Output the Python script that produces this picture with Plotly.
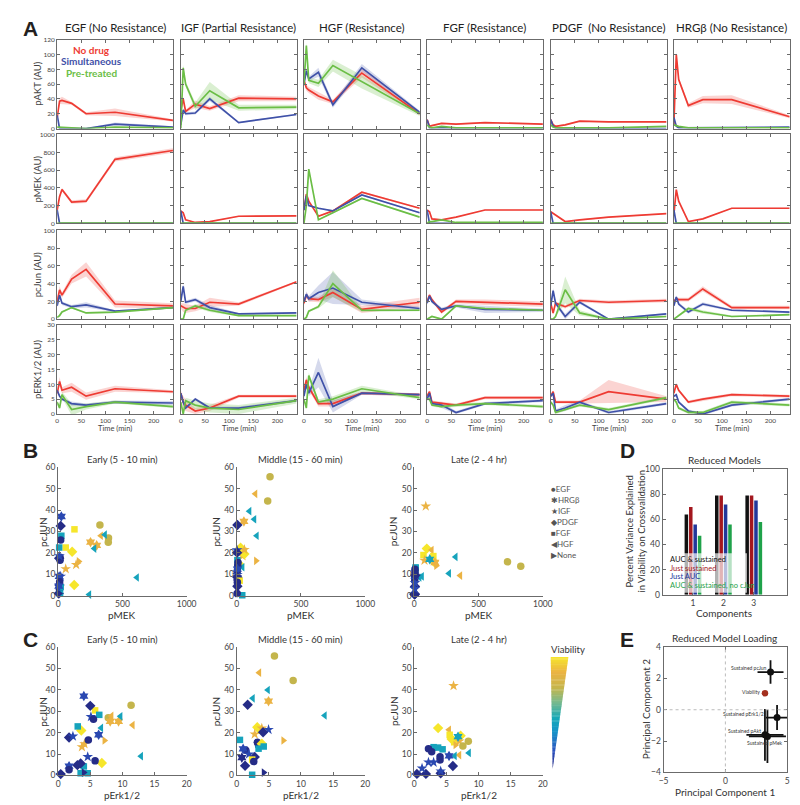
import plotly.graph_objects as go
from plotly.colors import sample_colorscale

# ---------------- DATA: panel A (time courses) ----------------
TIME = [0, 5, 10, 30, 60, 120, 240]
LIGAND_TITLES = ["EGF (No Resistance)", "IGF (Partial Resistance)", "HGF (Resistance)",
                 "FGF (Resistance)", "PDGF  (No Resistance)", "HRGβ (No Resistance)"]
PROTEIN_LABELS = ["pAKT (AU)", "pMEK (AU)", "pcJun (AU)", "pERK1/2 (AU)"]
Y_TICKS = [[0, 20, 40, 60, 80, 100, 120], [0, 200, 400, 600, 800, 1000],
           [0, 20, 40, 60, 80, 100], [0, 5, 10, 15, 20, 25, 30]]
TIME_TICKS = [0, 50, 100, 150, 200]

# rows: EGF, IGF, HGF, FGF, PDGF, HRGb
AKT_NODRUG = [[15, 37, 38, 34, 20, 22, 11], [25, 40, 23, 33, 27, 41, 40], [65, 55, 52, 44, 36, 75, 20],
              [12, 3, 4, 7, 6, 8, 6], [12, 5, 3, 5, 10, 9, 9], [5, 100, 66, 31, 39, 39, 16]]
AKT_NODRUG_SD = [[2, 4, 5, 2, 2, 5, 1.5], [3, 3, 2, 5, 3, 4, 3], [3, 4, 4, 5, 3, 6, 2],
                 [1, 1, 1, 1, 1, 1, 1], [1, 1, 1, 1, 1, 1, 1], [2, 4, 3, 3, 5, 6, 2]]
AKT_SIM = [[18, 0, 0, 0, 0, 6, 2], [5, 25, 20, 21, 40, 8, 19], [60, 78, 67, 76, 32, 82, 22],
           [12, 1, 1, 1, 1, 2, 1], [12, 3, 1, 0, 0, 0, 0], [15, 3, 1, 1, 1, 1, 2]]
AKT_SIM_SD = [[1, 0.5, 0.5, 0.5, 0.5, 2, 1], [2, 2, 2, 2, 3, 1, 1], [3, 4, 3, 6, 4, 5, 2],
              [0.5, 0.5, 0.5, 0.5, 0.5, 0.5, 0.5], [0.5, 0.5, 0.5, 0.5, 0.5, 0.5, 0.5], [0.5, 0.5, 0.5, 0.5, 0.5, 0.5, 0.5]]
AKT_PRE = [[2, 2, 2, 1, 0, 2, 1], [0, 82, 60, 30, 51, 28, 29], [60, 112, 65, 61, 85, 63, 20],
           [5, 2, 1, 3, 1, 1, 1], [5, 2, 1, 1, 0, 1, 3], [5, 4, 3, 1, 1, 1, 1]]
AKT_PRE_SD = [[0.5, 0.5, 0.5, 0.5, 0.5, 0.5, 0.5], [2, 4, 4, 5, 12, 4, 3], [4, 4, 4, 5, 8, 9, 3],
              [0.5, 0.5, 0.5, 0.5, 0.5, 0.5, 0.5], [0.5, 0.5, 0.5, 0.5, 0.5, 0.5, 0.5], [0.5, 0.5, 0.5, 0.5, 0.5, 0.5, 0.5]]

MEK_NODRUG = [[150, 300, 380, 240, 250, 720, 820], [140, 120, 40, 10, 20, 80, 85], [150, 330, 250, 80, 140, 350, 170],
              [150, 130, 50, 40, 70, 150, 150], [130, 110, 90, 20, 40, 70, 110], [100, 380, 250, 20, 50, 170, 170]]
MEK_NODRUG_SD = [[10, 20, 20, 20, 20, 25, 25], [8, 8, 6, 5, 5, 6, 6], [8, 10, 10, 8, 8, 10, 8],
                 [6, 6, 5, 5, 5, 6, 6], [6, 6, 5, 5, 5, 6, 6], [6, 10, 8, 5, 5, 6, 6]]
MEK_SIM = [[150, 0, 0, 0, 0, 0, 0], [140, 0, 0, 0, 0, 0, 0], [150, 310, 200, 170, 140, 320, 120],
           [150, 0, 0, 0, 0, 0, 0], [130, 0, 0, 0, 0, 0, 0], [150, 0, 0, 0, 0, 0, 0]]
MEK_SIM_SD = [[3, 2, 2, 2, 2, 2, 2], [3, 2, 2, 2, 2, 2, 2], [8, 10, 8, 8, 8, 10, 8],
              [3, 2, 2, 2, 2, 2, 2], [3, 2, 2, 2, 2, 2, 2], [3, 2, 2, 2, 2, 2, 2]]
MEK_PRE = [[0, 3, 3, 3, 3, 3, 3], [0, 2, 2, 2, 2, 2, 2], [0, 200, 610, 40, 120, 280, 70],
           [0, 20, 20, 40, 10, 10, 10], [0, 2, 2, 2, 2, 2, 2], [0, 2, 2, 2, 2, 2, 2]]
MEK_PRE_SD = [[2, 2, 2, 2, 2, 2, 2], [2, 2, 2, 2, 2, 2, 2], [5, 10, 10, 6, 8, 10, 6],
              [2, 3, 3, 4, 2, 2, 2], [2, 2, 2, 2, 2, 2, 2], [2, 2, 2, 2, 2, 2, 2]]

JUN_NODRUG = [[20, 33, 27, 45, 56, 17, 15], [15, 13, 12, 12, 19, 17, 42], [18, 27, 23, 22, 30, 11, 19],
              [20, 27, 22, 8, 20, 19, 17], [18, 7, 18, 14, 21, 19, 21], [20, 23, 22, 22, 34, 13, 13]]
JUN_NODRUG_SD = [[3, 4, 3, 5, 8, 4, 3], [3, 5, 5, 3, 5, 2, 1], [3, 3, 3, 3, 5, 4, 5],
                 [2, 2, 2, 2, 2, 3, 3], [2, 2, 2, 2, 2, 2, 2], [2, 2, 2, 2, 3, 2, 2]]
JUN_SIM = [[15, 27, 18, 14, 16, 9, 13], [20, 37, 19, 22, 13, 6, 7], [20, 28, 23, 30, 35, 19, 12],
           [18, 26, 20, 11, 15, 11, 10], [15, 32, 18, 3, 19, 0, 6], [15, 25, 17, 8, 17, 10, 8]]
JUN_SIM_SD = [[2, 3, 2, 2, 3, 1, 1], [3, 3, 2, 2, 3, 1, 1], [3, 3, 3, 8, 18, 3, 2],
              [2, 2, 2, 2, 2, 4, 2], [2, 3, 2, 3, 2, 1, 1], [2, 2, 2, 2, 2, 1, 1]]
JUN_PRE = [[2, 4, 8, 13, 7, 8, 13], [0, 0, 10, 15, 10, 4, 4], [0, 2, 9, 14, 40, 10, 10],
           [0, 2, 3, 0, 15, 12, 10], [0, 0, 3, 33, 7, 0, 3], [0, 2, 4, 12, 8, 3, 5]]
JUN_PRE_SD = [[1, 1, 1, 1, 1, 1, 1], [1, 1, 1, 2, 2, 1, 1], [1, 1, 1, 2, 15, 2, 1],
              [1, 1, 1, 1, 1, 1, 1], [1, 1, 1, 15, 3, 1, 1], [1, 1, 1, 2, 2, 1, 1]]

ERK_NODRUG = [[7, 11, 8, 9, 6, 8.5, 7.5], [7, 4, 3, 1, 2, 6, 6], [8, 11.5, 9, 3.5, 3.5, 7, 6.5],
              [6, 7.5, 4, 3.5, 3, 5.5, 5.5], [6, 7.5, 4, 4, 4, 7.5, 5], [7, 10, 8, 4, 5, 6.5, 6]]
ERK_NODRUG_SD = [[1, 1.5, 1, 1.5, 1.2, 1, 0.5], [1, 2, 2, 1, 1, 0.5, 0.5], [1, 1, 1, 1, 1, 0.5, 0.5],
                 [0.5, 0.5, 0.5, 0.5, 0.5, 0.5, 0.5], [0.5, 0.5, 0.5, 0.5, 0.5, 4, 1], [0.5, 0.5, 0.5, 0.5, 0.5, 0.5, 0.5]]
ERK_SIM = [[8, 6, 5, 3.5, 3, 4, 3.7], [7, 4, 2, 5, 2, 2, 4.5], [6, 10, 7, 14, 2.5, 7, 6.5],
           [5, 7, 3.5, 3, 0.5, 3.5, 4.5], [6, 7, 1, 2, 4, 0.5, 3.5], [6, 6.5, 4, 1, 0, 3, 5]]
ERK_SIM_SD = [[0.5, 0.5, 0.5, 0.7, 0.5, 0.5, 0.7], [0.5, 0.5, 0.5, 0.5, 0.5, 0.5, 0.5], [1, 1, 1, 5, 2, 0.5, 0.5],
              [0.5, 0.5, 0.5, 1, 0.5, 0.5, 0.5], [0.5, 0.5, 0.5, 1, 0.5, 0.5, 0.5], [0.5, 0.5, 0.5, 0.5, 0.5, 0.5, 0.5]]
ERK_PRE = [[4, 2, 6.5, 1.5, 2.5, 4, 2.5], [4, 0, 4.5, 3, 2, 1.5, 4.5], [5, 2, 13, 4, 5, 8.5, 5.5],
           [5, 5, 3, 2.5, 3, 3.5, 2.5], [4, 3, 0.5, 1.5, 3, 1.5, 5.5], [5, 4, 2, 0.5, 0.5, 4, 3]]
ERK_PRE_SD = [[0.5, 0.5, 1, 2, 1, 0.5, 0.5], [0.5, 0.5, 1, 1.5, 1.5, 1.5, 1], [0.5, 0.5, 1, 1, 1, 1, 0.5],
              [0.5, 0.5, 0.5, 0.5, 0.5, 0.5, 0.5], [0.5, 0.5, 0.5, 0.5, 0.5, 0.5, 0.5], [0.5, 0.5, 0.5, 0.5, 0.5, 0.5, 0.5]]

CONDITIONS = ["No drug", "Simultaneous", "Pre-treated"]

# ---------------- DATA: panels B, C (scatter) ----------------
# ligand codes: E=EGF, H=HRGb, I=IGF, P=PDGF, F=FGF, G=HGF, N=None ; V = viability (0..1)
B_EARLY_PMEK = [325, 392, 390, 252, 300, 333, 364, 282, 613, 242, 127, 59, 109, 125, 160, 140, 59, 25, 20, 25,
                20, 8, 15, 15, 8, 10, 8, 10, 10, 20, 5, 15, 10, 20, 12, 5]
B_EARLY_PCJUN = [33, 27, 25, 25, 23.5, 28, 28.5, 22, 8.5, 0.5, 31, 22.5, 20.5, 5, 16, 14.5, 12.5, 37, 32.6, 28,
                 26, 22.5, 18, 16.5, 17.5, 18.5, 9, 5, 3, 4, 1, 1, 1, 9, 6.5, 4.5]
B_EARLY_LIG = "EEEHHGGGGGFFPPNIIHPFEFEEPIHPEFPFNIEH"
B_EARLY_V = [.72, .72, .72, .86, .86, .86, .42, .42, .42, .42, 1, 1, 1, 1, .86, .86, .86, .12, .02, .42,
             .02, .42, .02, .02, .02, .12, .12, .02, .02, .42, .02, .42, .02, .12, .02, .12]

B_MIDDLE_PMEK = [259, 241, 145, 99, 137, 56, 156, 5, 45, 30, 55, 60, 60, 150, 20, 5, 5, 8, 45, 10,
                 8, 5, 5, 5, 5, 5, 23, 5, 5, 2, 3, 43, 5, 3]
B_MIDDLE_PCJUN = [55.6, 44.3, 47.6, 39.5, 35.7, 34.7, 28, 33, 18.6, 22.4, 20.9, 19.5, 21.5, 16.3, 14.7, 16.6, 13.5,
                  12.4, 13.3, 15.5, 14, 11.7, 12.4, 9.8, 8.3, 8.6, 7, 6.3, 4.4, 21.3, 20.1, 0.2, 1.2, 1]
B_MIDDLE_LIG = "EEGGGHGPIPFPINPFFFGEEEHIHPFEPIPFNE"
B_MIDDLE_V = [.72, .72, .86, .42, .42, .86, .42, .02, .86, 1, 1, 1, .86, .86, 1, .42, .42, .42, .42, .02,
              .02, .02, .12, .12, .02, .02, 1, .02, .02, .12, .02, .42, .02, .02]

B_LATE_PMEK = [89, 725, 828, 321, 270, 357, 59, 40, 97, 135, 71, 79, 148, 150, 160, 170, 120, 10, 10, 8,
               5, 5, 3, 3, 5, 2, 3, 2, 5, 3, 5, 8]
B_LATE_PCJUN = [41.8, 15.8, 13.8, 18.1, 10.4, 9.4, 9, 8.5, 22, 21.3, 19, 16.5, 18.5, 16, 15.5, 14, 17, 13.2, 12.9,
                12.1, 12.4, 10.9, 8.6, 7, 4.3, 0.9, 0.6, 0.6, 6, 3.2, 9, 9.5]
B_LATE_LIG = "IEEGGGGGPGFIFPHNHFFFEEEEPPPPIIHP"
B_LATE_V = [.86, .72, .72, .42, .42, .86, .42, .42, 1, .86, 1, .86, 1, 1, .86, .86, .42, .42, .42, .42,
            .02, .02, .02, .02, .02, .02, .02, .02, .12, .12, .12, .02]

C_EARLY_PERK = [11.35, 7.8, 8.3, 9.4, 8.1, 11.6, 9.7, 6.7, 12.9, 7.2, 3.7, 4.1, 3.6, 5.75, 6.8, 3.05, 6.4, 4, 3.5, 4.6,
                5, 4, 5.1, 5.5, 1.7, 2.3, 4.7, 6.3, 4.6, 5.75, 3, 3.5, 1.7, 1.7, 0.4, 4]
C_EARLY_PCJUN = [32.8, 27, 27.8, 25.2, 25.2, 23.5, 27.6, 22.2, 9, 16.3, 13.3, 14.7, 21, 30.4, 5.8, 22.9, 28.3, 4.2, 1, 1,
                 32.5, 37.1, 27.4, 26.3, 17.7, 18.3, 16.6, 19, 8.7, 6.8, 4.8, 5.6, 4.3, 2.7, 0.6, 1.3]
C_EARLY_LIG = "EEGHHGGGGNIIPFPFFFFFPHIEPIEHIEPPHEPN"
C_EARLY_V = [.72, .72, .86, .86, .86, .86, .42, .42, .42, .86, .86, .86, 1, 1, 1, .42, .42, .42, .42, .42,
             .02, .12, .12, .02, .02, .12, .02, .12, .12, .02, .02, .02, .12, .02, .02, .02]

C_MIDDLE_PERK = [5.87, 8.78, 3.5, 4.85, 2.5, 4.95, 13.7, 1.7, 4.95, 7.25, 3.2, 3.7, 2.8, 3.9, 4.1, 0.5, 3.2, 3.4, 3.9,
                 3.4, 4.2, 1.4, 1.0, 1.9, 0.8, 2.8, 2.4, 2.65, 1.3, 2.4, 4.2]
C_MIDDLE_PCJUN = [55.8, 44.3, 48, 39.9, 36, 34.7, 28, 33, 21.4, 16.3, 22.5, 21, 19.3, 22, 20.2, 16.6, 15.5, 14, 14.8,
                  12.5, 13.5, 11.7, 12.4, 9.9, 8.3, 8.6, 7.4, 6.5, 4.5, 0.3, 1.3]
C_MIDDLE_LIG = "EEGGGHGPINPFIIPFEEPFFEHIHPFEPFN"
C_MIDDLE_V = [.72, .72, .86, .42, .42, .86, .42, .02, .12, .86, 1, 1, .86, .86, .02, .42, .02, .02, 1,
              .42, .42, .02, .12, .12, .02, .02, 1, .02, .02, .42, .02]

C_LATE_PERK = [6.1, 3.7, 5.4, 5.5, 5.8, 6.2, 7.2, 7, 6.8, 8.4, 7.55, 6.4, 8.5, 7.0, 6.3, 5.4, 3, 3.7, 4.4, 2.2,
               2.7, 4, 4, 6, 4.1, 1.8, 0.4, 2.2, 3, 1.2, 4.1]
C_LATE_PCJUN = [41.9, 22.1, 21.3, 19, 17, 15.5, 18.5, 16, 18.1, 16, 13.8, 14.2, 10.5, 9.5, 9.1, 9.1, 13.2, 13, 12.2,
                12.5, 11, 8.7, 7.2, 4.4, 1, 0.7, 0.7, 6.1, 6.1, 3.3, 2]
C_LATE_LIG = "IPGFPFPIHEENGGGHFFFEEEEPPPPIIII"
C_LATE_V = [.86, 1, .86, 1, 1, 1, 1, .86, .42, .72, .72, .86, .42, .86, .42, .12, .42, .42, .42, .02,
            .02, .02, .02, .02, .02, .02, .02, .12, .12, .12, .12]

SCATTER_TITLES = ["Early (5 - 10 min)", "Middle (15 - 60 min)", "Late (2 - 4 hr)"]
MARKER_LEGEND = [("●", "EGF"), ("✱", "HRGβ"), ("★", "IGF"), ("◆", "PDGF"), ("■", "FGF"), ("◀", "HGF"), ("▶", "None")]

# ---------------- DATA: panel D ----------------
COMPONENTS = [1, 2, 3]
D_MODELS = ["AUC & sustained", "Just sustained", "Just AUC", "AUC & sustained, no cJun"]
D_VALUES = [[64, 79, 79], [70, 79, 79], [56, 72, 75], [47, 56, 58]]

# ---------------- DATA: panel E ----------------
E_NAMES = ["Sustained pcJun", "Viability", "Sustained pErk1/2", "Sustained pAkt", "Sustained pMek"]
E_PC1 = [3.65, 3.2, 4.18, 3.2, 3.4]
E_PC2 = [2.4, 1.05, -0.5, -1.6, -1.7]
E_PC1_ERR = [1.05, 0, 0.9, 1.5, 1.5]
E_PC2_ERR = [0.75, 0, 0.8, 1.65, 1.7]

# ---------------- STYLE ----------------
W, H = 800, 805
FONT = "Lato"
RED, BLUE, GREEN = "#EE3B33", "#3F51A8", "#6BBE46"
BANDS = ["rgba(238,59,51,0.22)", "rgba(63,81,168,0.22)", "rgba(107,190,70,0.25)"]
LINES = [RED, BLUE, GREEN]
AXC = "#6b6b6b"
TXT = "#333333"
VIAB_CS = [[0.0, "#24277F"], [0.15, "#2C50BE"], [0.33, "#1794C8"], [0.45, "#15A8B8"],
           [0.6, "#7DBA8A"], [0.72, "#C4B54C"], [0.86, "#EBB343"], [1.0, "#F6E62B"]]
SYMBOLS = {"E": "circle", "H": "hexagram", "I": "star", "P": "diamond", "F": "square",
           "G": "triangle-left", "N": "triangle-right"}
SIZES = {"E": 7.5, "H": 8, "I": 8, "P": 8, "F": 6.5, "G": 7.5, "N": 7.5}


def px(x):
    return x / W


def py(y):
    return 1 - y / H


fig = go.Figure()
layout = {}
ann = []
shapes = []
axn = [0]


def new_axes(l, r, t, b, xo, yo):
    axn[0] += 1
    i = axn[0]
    s = "" if i == 1 else str(i)
    layout["xaxis" + s] = dict(domain=[px(l), px(r)], anchor="y" + s, **xo)
    layout["yaxis" + s] = dict(domain=[py(b), py(t)], anchor="x" + s, **yo)
    return "x" + s, "y" + s


def text(x, y, s, size, color=TXT, xanchor="center", angle=0, yanchor="middle", ref=("paper", "paper")):
    if ref[0] == "paper":
        x, y = px(x), py(y)
    ann.append(dict(x=x, y=y, xref=ref[0], yref=ref[1], text=s, showarrow=False,
                    font=dict(size=size, color=color, family=FONT),
                    xanchor=xanchor, yanchor=yanchor, textangle=angle))


def axstyle(box=True, size=6.5, **kw):
    d = dict(showline=True, linecolor=AXC, linewidth=1, mirror="ticks" if box else False,
             ticks="inside", ticklen=3, tickcolor=AXC, showgrid=False, zeroline=False,
             tickfont=dict(size=size, color="#444", family=FONT), fixedrange=True)
    d.update(kw)
    return d


# ---------------- PANEL A ----------------
COL_L = [45, 171, 296.5, 422, 548, 673.5]
COL_W = 118
ROW_T = [27, 123, 220, 316]
ROW_H = 90
PROTEINS = [
    (AKT_NODRUG, AKT_NODRUG_SD, AKT_SIM, AKT_SIM_SD, AKT_PRE, AKT_PRE_SD),
    (MEK_NODRUG, MEK_NODRUG_SD, MEK_SIM, MEK_SIM_SD, MEK_PRE, MEK_PRE_SD),
    (JUN_NODRUG, JUN_NODRUG_SD, JUN_SIM, JUN_SIM_SD, JUN_PRE, JUN_PRE_SD),
    (ERK_NODRUG, ERK_NODRUG_SD, ERK_SIM, ERK_SIM_SD, ERK_PRE, ERK_PRE_SD),
]
for r in range(4):
    means = PROTEINS[r][0::2]
    sds = PROTEINS[r][1::2]
    yt = Y_TICKS[r]
    for c in range(6):
        xo = axstyle(range=[0, 240], tickvals=TIME_TICKS, showticklabels=(r == 3))
        yo = axstyle(range=[yt[0], yt[-1]], tickvals=yt, showticklabels=(c == 0))
        xr, yr = new_axes(COL_L[c], COL_L[c] + COL_W, ROW_T[r], ROW_T[r] + ROW_H, xo, yo)
        for k in range(3):
            m = means[k][c]
            s = sds[k][c]
            up = [a + b for a, b in zip(m, s)]
            lo = [a - b for a, b in zip(m, s)]
            fig.add_trace(go.Scatter(x=TIME + TIME[::-1], y=up + lo[::-1], fill="toself",
                                     fillcolor=BANDS[k], line=dict(width=0), mode="lines",
                                     hoverinfo="skip", xaxis=xr, yaxis=yr))
        for k in range(3):
            fig.add_trace(go.Scatter(x=TIME, y=means[k][c], mode="lines", name=CONDITIONS[k],
                                     line=dict(color=LINES[k], width=1.7), xaxis=xr, yaxis=yr))
        if r == 0:
            text(COL_L[c] + COL_W / 2, 15, LIGAND_TITLES[c], 11.5, color="#222")
        if r == 3:
            text(COL_L[c] + COL_W / 2, 421, "Time (min)", 7.5, color="#444")
    text(25, ROW_T[r] + ROW_H / 2, PROTEIN_LABELS[r], 9.5, color="#444", angle=-90)

text(80, 37, "<b>No drug</b>", 10, color=RED)
text(80, 49, "<b>Simultaneous</b>", 10, color=BLUE)
text(80, 61, "<b>Pre-treated</b>", 10, color=GREEN)

# ---------------- PANELS B, C ----------------
SC_L = [46, 228, 409]
SC_W = 131
YLAB_X = [31, 207, 388]
B_SETS = [(B_EARLY_PMEK, B_EARLY_PCJUN, B_EARLY_LIG, B_EARLY_V),
          (B_MIDDLE_PMEK, B_MIDDLE_PCJUN, B_MIDDLE_LIG, B_MIDDLE_V),
          (B_LATE_PMEK, B_LATE_PCJUN, B_LATE_LIG, B_LATE_V)]
C_SETS = [(C_EARLY_PERK, C_EARLY_PCJUN, C_EARLY_LIG, C_EARLY_V),
          (C_MIDDLE_PERK, C_MIDDLE_PCJUN, C_MIDDLE_LIG, C_MIDDLE_V),
          (C_LATE_PERK, C_LATE_PCJUN, C_LATE_LIG, C_LATE_V)]
for rowi, (sets, top, xmax, xticks, xlab) in enumerate([
        (B_SETS, 460, 1000, [0, 500, 1000], "pMEK"),
        (C_SETS, 642, 20, [0, 5, 10, 15, 20], "pErk1/2")]):
    for j in range(3):
        X, Y, L, V = sets[j]
        xo = axstyle(box=False, size=8.5, range=[0, xmax], tickvals=xticks)
        yo = axstyle(box=False, size=8.5, range=[0, 60], tickvals=[0, 10, 20, 30, 40, 50, 60])
        xr, yr = new_axes(SC_L[j], SC_L[j] + SC_W, top, top + 130, xo, yo)
        fig.add_trace(go.Scatter(x=X, y=Y, mode="markers", cliponaxis=False,
                                 marker=dict(symbol=[SYMBOLS[s] for s in L], size=[SIZES[s] for s in L],
                                             color=V, colorscale=VIAB_CS, cmin=0, cmax=1, opacity=1,
                                             line=dict(width=0)),
                                 xaxis=xr, yaxis=yr))
        text(SC_L[j] + SC_W / 2, top - 8, SCATTER_TITLES[j], 9.5, color="#333")
        text(YLAB_X[j], top + 65, "pcJUN", 10, color="#333", angle=-90)
        text(SC_L[j] + SC_W / 2, top + 150, xlab, 10, color="#333")

for i, (sym, name) in enumerate(MARKER_LEGEND):
    text(546, 482 + i * 11.2, sym + name, 8, color="#555", xanchor="left")

# Viability wedge
text(566, 644, "Viability", 9.5, color="#333")
N = 90
y0, y1 = 652, 765
for k in range(N):
    ya = y0 + k * (y1 - y0) / N
    yb = ya + (y1 - y0) / N + 0.4
    f = (ya - y0) / (y1 - y0)
    fb = min((yb - y0) / (y1 - y0), 1)
    xla, xlb = 548 + 2 * f, 548 + 2 * fb
    xra, xrb = 566 - 16 * f, 566 - 16 * fb
    col = sample_colorscale(VIAB_CS, [1 - (k + 0.5) / N])[0]
    path = "M {} {} L {} {} L {} {} L {} {} Z".format(px(xla), py(ya), px(xra), py(ya),
                                                      px(xrb), py(yb), px(xlb), py(yb))
    shapes.append(dict(type="path", xref="paper", yref="paper", path=path,
                       fillcolor=col, line=dict(width=0), layer="above"))

# ---------------- PANEL D ----------------
D_COLORS = ["#111111", "#A3171E", "#22389A", "#1FA24A"]
xo = axstyle(size=8.5, range=[0, 4.1], tickvals=COMPONENTS)
yo = axstyle(size=8.5, range=[0, 100], tickvals=[0, 20, 40, 60, 80, 100])
dx, dy = new_axes(662, 789, 462, 589, xo, yo)
for k in range(4):
    fig.add_trace(go.Bar(x=COMPONENTS, y=D_VALUES[k], name=D_MODELS[k], marker=dict(color=D_COLORS[k], line=dict(width=0)),
                         xaxis=dx, yaxis=dy))
shapes.append(dict(type="rect", xref="paper", yref="paper", x0=px(667), x1=px(748), y0=py(587), y1=py(547),
                   fillcolor="rgba(255,255,255,0.68)", line=dict(width=0), layer="above"))
for k in range(4):
    text(668, 553 + 9 * k, D_MODELS[k], 7.5, color=D_COLORS[k], xanchor="left")
text(725, 453, "Reduced Models", 10, color="#333")
text(725, 608, "Components", 10, color="#333")
text(634, 525, "Percent Variance Explained<br>in Viability on Crossvalidation", 9.5, color="#333", angle=-90)

# ---------------- PANEL E ----------------
xo = axstyle(size=8.5, range=[-5, 5], tickvals=[-5, 0, 5])
yo = axstyle(size=8.5, range=[-4, 4], tickvals=[-4, -2, 0, 2, 4])
ex, ey = new_axes(663, 789, 642, 769, xo, yo)
shapes.append(dict(type="line", xref=ex, yref=ey, x0=0, x1=0, y0=-4, y1=4, line=dict(color="#bbbbbb", width=1, dash="dot")))
shapes.append(dict(type="line", xref=ex, yref=ey, x0=-5, x1=5, y0=0, y1=0, line=dict(color="#bbbbbb", width=1, dash="dot")))
idx_err = [i for i in range(5) if E_NAMES[i] != "Viability"]
fig.add_trace(go.Scatter(x=[E_PC1[i] for i in idx_err], y=[E_PC2[i] for i in idx_err], mode="markers",
                         marker=dict(color="#111", size=7),
                         error_x=dict(type="data", array=[E_PC1_ERR[i] for i in idx_err], color="#111", thickness=1.8, width=0),
                         error_y=dict(type="data", array=[E_PC2_ERR[i] for i in idx_err], color="#111", thickness=1.8, width=0),
                         xaxis=ex, yaxis=ey, cliponaxis=False))
vi = E_NAMES.index("Viability")
fig.add_trace(go.Scatter(x=[E_PC1[vi]], y=[E_PC2[vi]], mode="markers", marker=dict(color="#A3301E", size=6.5),
                         xaxis=ex, yaxis=ey))
E_LABEL_POS = [(3.55, 2.65, "right"), (2.95, 1.13, "right"), (3.25, -0.25, "right"), (3.05, -1.34, "right"), (1.56, -2.1, "left")]
for i, (lx, ly, anc) in enumerate(E_LABEL_POS):
    text(lx, ly, E_NAMES[i], 5, color="#333", xanchor=anc, ref=(ex, ey))
text(725, 633, "Reduced Model Loading", 10, color="#333")
text(726, 789, "Principal Component 1", 10, color="#333")
text(645, 705, "Principal Component 2", 10, color="#333", angle=-90)

# ---------------- PANEL LETTERS ----------------
for letter, x, y in [("A", 8, 16), ("B", 8, 443), ("C", 8, 634), ("D", 617, 443), ("E", 617, 634)]:
    ann.append(dict(x=px(x), y=py(y), xref="paper", yref="paper", text="<b>" + letter + "</b>", showarrow=False,
                    font=dict(size=21, color="#231F20", family="Liberation Sans"), xanchor="left", yanchor="middle"))

fig.update_layout(**layout)
fig.update_layout(width=W, height=H, margin=dict(l=0, r=0, t=0, b=0), paper_bgcolor="white",
                  plot_bgcolor="white", showlegend=False, annotations=ann, shapes=shapes,
                  barmode="group", bargap=0.42, bargroupgap=0.2, font=dict(family=FONT))
fig.write_html("out.html")
